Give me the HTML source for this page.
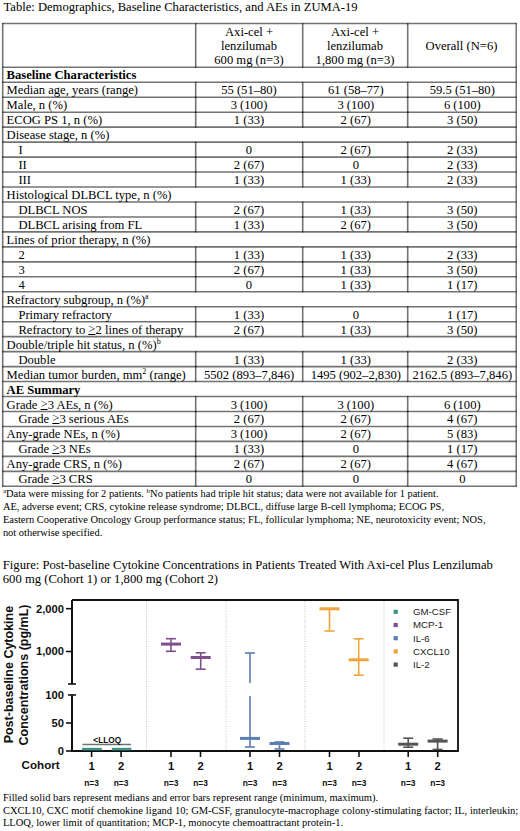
<!DOCTYPE html>
<html><head><meta charset="utf-8"><title>ZUMA-19</title>
<style>
html,body{margin:0;padding:0;background:#fff;}
body{width:520px;height:831px;position:relative;overflow:hidden;font-family:"Liberation Serif",serif;color:#000;}
.tl{position:absolute;left:0;top:0;}
.t{position:absolute;font-size:12.6px;line-height:15px;height:15px;white-space:nowrap;}
.b{font-weight:bold;}
.ge{position:relative;top:-1px;text-decoration:underline;text-decoration-thickness:1px;text-underline-offset:0.8px;}
.h{position:absolute;font-size:12.6px;line-height:14.33px;text-align:center;white-space:nowrap;}
sup{font-size:8px;line-height:0;vertical-align:0;position:relative;top:-5.2px;}
.p{position:absolute;font-size:10.45px;line-height:13px;white-space:nowrap;left:2.9px;}
.q{position:absolute;font-size:10.5px;line-height:12.7px;white-space:nowrap;left:2.9px;}
.f{position:absolute;font-size:12.65px;line-height:14.4px;white-space:nowrap;left:2.8px;}
.p sup{font-size:7px;top:-3.5px;}
.ch{position:absolute;left:0;top:0;}
.ch text{font-family:"Liberation Sans",sans-serif;font-weight:bold;fill:#111;}
.ch .yl{font-size:11.2px;}
.ch .xl{font-size:11.2px;}
.ch .nl{font-size:8.4px;}
.ch .ll{font-size:8.3px;}
.ch .yt{font-size:12.5px;}
.ch .lg{font-size:9.7px;font-weight:normal;fill:#222;}
</style></head><body>
<div class="t" style="left:3.5px;top:0px;font-size:12.6px">Table: Demographics, Baseline Characteristics, and AEs in ZUMA-19</div>
<svg class="tl" width="520" height="500" viewBox="0 0 520 500"><g stroke="#000" stroke-opacity="0.55" stroke-width="1.6" fill="none"><line x1="2.20" y1="23.45" x2="516.70" y2="23.45"/><line x1="2.20" y1="67.30" x2="516.70" y2="67.30"/><line x1="2.20" y1="82.26" x2="516.70" y2="82.26"/><line x1="2.20" y1="97.23" x2="516.70" y2="97.23"/><line x1="2.20" y1="112.19" x2="516.70" y2="112.19"/><line x1="2.20" y1="127.16" x2="516.70" y2="127.16"/><line x1="2.20" y1="142.12" x2="516.70" y2="142.12"/><line x1="2.20" y1="157.09" x2="516.70" y2="157.09"/><line x1="2.20" y1="172.05" x2="516.70" y2="172.05"/><line x1="2.20" y1="187.01" x2="516.70" y2="187.01"/><line x1="2.20" y1="201.98" x2="516.70" y2="201.98"/><line x1="2.20" y1="216.94" x2="516.70" y2="216.94"/><line x1="2.20" y1="231.91" x2="516.70" y2="231.91"/><line x1="2.20" y1="246.87" x2="516.70" y2="246.87"/><line x1="2.20" y1="261.84" x2="516.70" y2="261.84"/><line x1="2.20" y1="276.80" x2="516.70" y2="276.80"/><line x1="2.20" y1="291.76" x2="516.70" y2="291.76"/><line x1="2.20" y1="306.73" x2="516.70" y2="306.73"/><line x1="2.20" y1="321.69" x2="516.70" y2="321.69"/><line x1="2.20" y1="336.66" x2="516.70" y2="336.66"/><line x1="2.20" y1="351.62" x2="516.70" y2="351.62"/><line x1="2.20" y1="366.59" x2="516.70" y2="366.59"/><line x1="2.20" y1="381.55" x2="516.70" y2="381.55"/><line x1="2.20" y1="396.51" x2="516.70" y2="396.51"/><line x1="2.20" y1="411.48" x2="516.70" y2="411.48"/><line x1="2.20" y1="426.44" x2="516.70" y2="426.44"/><line x1="2.20" y1="441.41" x2="516.70" y2="441.41"/><line x1="2.20" y1="456.37" x2="516.70" y2="456.37"/><line x1="2.20" y1="471.34" x2="516.70" y2="471.34"/><line x1="2.20" y1="486.30" x2="516.70" y2="486.30"/><line x1="2.70" y1="22.95" x2="2.70" y2="486.80"/><line x1="195.70" y1="22.95" x2="195.70" y2="67.80"/><line x1="302.70" y1="22.95" x2="302.70" y2="67.80"/><line x1="407.70" y1="22.95" x2="407.70" y2="67.80"/><line x1="195.70" y1="81.76" x2="195.70" y2="97.73"/><line x1="302.70" y1="81.76" x2="302.70" y2="97.73"/><line x1="407.70" y1="81.76" x2="407.70" y2="97.73"/><line x1="195.70" y1="96.73" x2="195.70" y2="112.69"/><line x1="302.70" y1="96.73" x2="302.70" y2="112.69"/><line x1="407.70" y1="96.73" x2="407.70" y2="112.69"/><line x1="195.70" y1="111.69" x2="195.70" y2="127.66"/><line x1="302.70" y1="111.69" x2="302.70" y2="127.66"/><line x1="407.70" y1="111.69" x2="407.70" y2="127.66"/><line x1="195.70" y1="141.62" x2="195.70" y2="157.59"/><line x1="302.70" y1="141.62" x2="302.70" y2="157.59"/><line x1="407.70" y1="141.62" x2="407.70" y2="157.59"/><line x1="195.70" y1="156.59" x2="195.70" y2="172.55"/><line x1="302.70" y1="156.59" x2="302.70" y2="172.55"/><line x1="407.70" y1="156.59" x2="407.70" y2="172.55"/><line x1="195.70" y1="171.55" x2="195.70" y2="187.51"/><line x1="302.70" y1="171.55" x2="302.70" y2="187.51"/><line x1="407.70" y1="171.55" x2="407.70" y2="187.51"/><line x1="195.70" y1="201.48" x2="195.70" y2="217.44"/><line x1="302.70" y1="201.48" x2="302.70" y2="217.44"/><line x1="407.70" y1="201.48" x2="407.70" y2="217.44"/><line x1="195.70" y1="216.44" x2="195.70" y2="232.41"/><line x1="302.70" y1="216.44" x2="302.70" y2="232.41"/><line x1="407.70" y1="216.44" x2="407.70" y2="232.41"/><line x1="195.70" y1="246.37" x2="195.70" y2="262.34"/><line x1="302.70" y1="246.37" x2="302.70" y2="262.34"/><line x1="407.70" y1="246.37" x2="407.70" y2="262.34"/><line x1="195.70" y1="261.34" x2="195.70" y2="277.30"/><line x1="302.70" y1="261.34" x2="302.70" y2="277.30"/><line x1="407.70" y1="261.34" x2="407.70" y2="277.30"/><line x1="195.70" y1="276.30" x2="195.70" y2="292.26"/><line x1="302.70" y1="276.30" x2="302.70" y2="292.26"/><line x1="407.70" y1="276.30" x2="407.70" y2="292.26"/><line x1="195.70" y1="306.23" x2="195.70" y2="322.19"/><line x1="302.70" y1="306.23" x2="302.70" y2="322.19"/><line x1="407.70" y1="306.23" x2="407.70" y2="322.19"/><line x1="195.70" y1="321.19" x2="195.70" y2="337.16"/><line x1="302.70" y1="321.19" x2="302.70" y2="337.16"/><line x1="407.70" y1="321.19" x2="407.70" y2="337.16"/><line x1="195.70" y1="351.12" x2="195.70" y2="367.09"/><line x1="302.70" y1="351.12" x2="302.70" y2="367.09"/><line x1="407.70" y1="351.12" x2="407.70" y2="367.09"/><line x1="195.70" y1="366.09" x2="195.70" y2="382.05"/><line x1="302.70" y1="366.09" x2="302.70" y2="382.05"/><line x1="407.70" y1="366.09" x2="407.70" y2="382.05"/><line x1="195.70" y1="396.01" x2="195.70" y2="411.98"/><line x1="302.70" y1="396.01" x2="302.70" y2="411.98"/><line x1="407.70" y1="396.01" x2="407.70" y2="411.98"/><line x1="195.70" y1="410.98" x2="195.70" y2="426.94"/><line x1="302.70" y1="410.98" x2="302.70" y2="426.94"/><line x1="407.70" y1="410.98" x2="407.70" y2="426.94"/><line x1="195.70" y1="425.94" x2="195.70" y2="441.91"/><line x1="302.70" y1="425.94" x2="302.70" y2="441.91"/><line x1="407.70" y1="425.94" x2="407.70" y2="441.91"/><line x1="195.70" y1="440.91" x2="195.70" y2="456.87"/><line x1="302.70" y1="440.91" x2="302.70" y2="456.87"/><line x1="407.70" y1="440.91" x2="407.70" y2="456.87"/><line x1="195.70" y1="455.87" x2="195.70" y2="471.84"/><line x1="302.70" y1="455.87" x2="302.70" y2="471.84"/><line x1="407.70" y1="455.87" x2="407.70" y2="471.84"/><line x1="195.70" y1="470.84" x2="195.70" y2="486.80"/><line x1="302.70" y1="470.84" x2="302.70" y2="486.80"/><line x1="407.70" y1="470.84" x2="407.70" y2="486.80"/><line x1="516.20" y1="22.95" x2="516.20" y2="486.80" stroke-width="1.5"/></g></svg>
<div class="h" style="left:196px;top:24.7px;width:106px">Axi-cel +<br>lenzilumab<br>600 mg (n=3)</div>
<div class="h" style="left:303px;top:24.7px;width:104px">Axi-cel +<br>lenzilumab<br>1,800 mg (n=3)</div>
<div class="h" style="left:408px;top:39.03px;width:107px">Overall (N=6)</div>
<div class="t b" style="left:6.6px;top:68.2px;width:190px;text-align:left">Baseline Characteristics</div>
<div class="t" style="left:6.6px;top:83.2px;width:190px;text-align:left">Median age, years (range)</div>
<div class="t" style="left:196px;top:83.2px;width:106px;text-align:center">55 (51&ndash;80)</div>
<div class="t" style="left:303.8px;top:83.2px;width:104px;text-align:center">61 (58&ndash;77)</div>
<div class="t" style="left:408.8px;top:83.2px;width:107px;text-align:center">59.5 (51&ndash;80)</div>
<div class="t" style="left:6.6px;top:98.2px;width:190px;text-align:left">Male, n (%)</div>
<div class="t" style="left:196px;top:98.2px;width:106px;text-align:center">3 (100)</div>
<div class="t" style="left:303.8px;top:98.2px;width:104px;text-align:center">3 (100)</div>
<div class="t" style="left:408.8px;top:98.2px;width:107px;text-align:center">6 (100)</div>
<div class="t" style="left:6.6px;top:113.2px;width:190px;text-align:left">ECOG PS 1, n (%)</div>
<div class="t" style="left:196px;top:113.2px;width:106px;text-align:center">1 (33)</div>
<div class="t" style="left:303.8px;top:113.2px;width:104px;text-align:center">2 (67)</div>
<div class="t" style="left:408.8px;top:113.2px;width:107px;text-align:center">3 (50)</div>
<div class="t" style="left:6.6px;top:128.2px;width:190px;text-align:left">Disease stage, n (%)</div>
<div class="t" style="left:18.4px;top:143.2px;width:190px;text-align:left">I</div>
<div class="t" style="left:196px;top:143.2px;width:106px;text-align:center">0</div>
<div class="t" style="left:303.8px;top:143.2px;width:104px;text-align:center">2 (67)</div>
<div class="t" style="left:408.8px;top:143.2px;width:107px;text-align:center">2 (33)</div>
<div class="t" style="left:18.4px;top:158.2px;width:190px;text-align:left">II</div>
<div class="t" style="left:196px;top:158.2px;width:106px;text-align:center">2 (67)</div>
<div class="t" style="left:303.8px;top:158.2px;width:104px;text-align:center">0</div>
<div class="t" style="left:408.8px;top:158.2px;width:107px;text-align:center">2 (33)</div>
<div class="t" style="left:18.4px;top:173.2px;width:190px;text-align:left">III</div>
<div class="t" style="left:196px;top:173.2px;width:106px;text-align:center">1 (33)</div>
<div class="t" style="left:303.8px;top:173.2px;width:104px;text-align:center">1 (33)</div>
<div class="t" style="left:408.8px;top:173.2px;width:107px;text-align:center">2 (33)</div>
<div class="t" style="left:6.6px;top:188.2px;width:190px;text-align:left">Histological DLBCL type, n (%)</div>
<div class="t" style="left:18.4px;top:203.2px;width:190px;text-align:left">DLBCL NOS</div>
<div class="t" style="left:196px;top:203.2px;width:106px;text-align:center">2 (67)</div>
<div class="t" style="left:303.8px;top:203.2px;width:104px;text-align:center">1 (33)</div>
<div class="t" style="left:408.8px;top:203.2px;width:107px;text-align:center">3 (50)</div>
<div class="t" style="left:18.4px;top:218.2px;width:190px;text-align:left">DLBCL arising from FL</div>
<div class="t" style="left:196px;top:218.2px;width:106px;text-align:center">1 (33)</div>
<div class="t" style="left:303.8px;top:218.2px;width:104px;text-align:center">2 (67)</div>
<div class="t" style="left:408.8px;top:218.2px;width:107px;text-align:center">3 (50)</div>
<div class="t" style="left:6.6px;top:233.2px;width:190px;text-align:left">Lines of prior therapy, n (%)</div>
<div class="t" style="left:18.4px;top:248.2px;width:190px;text-align:left">2</div>
<div class="t" style="left:196px;top:248.2px;width:106px;text-align:center">1 (33)</div>
<div class="t" style="left:303.8px;top:248.2px;width:104px;text-align:center">1 (33)</div>
<div class="t" style="left:408.8px;top:248.2px;width:107px;text-align:center">2 (33)</div>
<div class="t" style="left:18.4px;top:263.2px;width:190px;text-align:left">3</div>
<div class="t" style="left:196px;top:263.2px;width:106px;text-align:center">2 (67)</div>
<div class="t" style="left:303.8px;top:263.2px;width:104px;text-align:center">1 (33)</div>
<div class="t" style="left:408.8px;top:263.2px;width:107px;text-align:center">3 (50)</div>
<div class="t" style="left:18.4px;top:278.2px;width:190px;text-align:left">4</div>
<div class="t" style="left:196px;top:278.2px;width:106px;text-align:center">0</div>
<div class="t" style="left:303.8px;top:278.2px;width:104px;text-align:center">1 (33)</div>
<div class="t" style="left:408.8px;top:278.2px;width:107px;text-align:center">1 (17)</div>
<div class="t" style="left:6.6px;top:293.2px;width:190px;text-align:left">Refractory subgroup, n (%)<sup>a</sup></div>
<div class="t" style="left:18.4px;top:308.2px;width:190px;text-align:left">Primary refractory</div>
<div class="t" style="left:196px;top:308.2px;width:106px;text-align:center">1 (33)</div>
<div class="t" style="left:303.8px;top:308.2px;width:104px;text-align:center">0</div>
<div class="t" style="left:408.8px;top:308.2px;width:107px;text-align:center">1 (17)</div>
<div class="t" style="left:18.4px;top:323.2px;width:190px;text-align:left">Refractory to <span class="ge">&gt;</span>2 lines of therapy</div>
<div class="t" style="left:196px;top:323.2px;width:106px;text-align:center">2 (67)</div>
<div class="t" style="left:303.8px;top:323.2px;width:104px;text-align:center">1 (33)</div>
<div class="t" style="left:408.8px;top:323.2px;width:107px;text-align:center">3 (50)</div>
<div class="t" style="left:6.6px;top:338.2px;width:190px;text-align:left">Double/triple hit status, n (%)<sup>b</sup></div>
<div class="t" style="left:18.4px;top:353.2px;width:190px;text-align:left">Double</div>
<div class="t" style="left:196px;top:353.2px;width:106px;text-align:center">1 (33)</div>
<div class="t" style="left:303.8px;top:353.2px;width:104px;text-align:center">1 (33)</div>
<div class="t" style="left:408.8px;top:353.2px;width:107px;text-align:center">2 (33)</div>
<div class="t" style="left:6.6px;top:368.2px;width:190px;text-align:left">Median tumor burden, mm<sup>2</sup> (range)</div>
<div class="t" style="left:196px;top:368.2px;width:106px;text-align:center">5502 (893&ndash;7,846)</div>
<div class="t" style="left:303.8px;top:368.2px;width:104px;text-align:center">1495 (902&ndash;2,830)</div>
<div class="t" style="left:408.8px;top:368.2px;width:107px;text-align:center">2162.5 (893&ndash;7,846)</div>
<div class="t b" style="left:6.6px;top:383.2px;width:190px;text-align:left">AE Summary</div>
<div class="t" style="left:6.6px;top:398.2px;width:190px;text-align:left">Grade <span class="ge">&gt;</span>3 AEs, n (%)</div>
<div class="t" style="left:196px;top:398.2px;width:106px;text-align:center">3 (100)</div>
<div class="t" style="left:303.8px;top:398.2px;width:104px;text-align:center">3 (100)</div>
<div class="t" style="left:408.8px;top:398.2px;width:107px;text-align:center">6 (100)</div>
<div class="t" style="left:18.4px;top:412.2px;width:190px;text-align:left">Grade <span class="ge">&gt;</span>3 serious AEs</div>
<div class="t" style="left:196px;top:412.2px;width:106px;text-align:center">2 (67)</div>
<div class="t" style="left:303.8px;top:412.2px;width:104px;text-align:center">2 (67)</div>
<div class="t" style="left:408.8px;top:412.2px;width:107px;text-align:center">4 (67)</div>
<div class="t" style="left:6.6px;top:427.2px;width:190px;text-align:left">Any-grade NEs, n (%)</div>
<div class="t" style="left:196px;top:427.2px;width:106px;text-align:center">3 (100)</div>
<div class="t" style="left:303.8px;top:427.2px;width:104px;text-align:center">2 (67)</div>
<div class="t" style="left:408.8px;top:427.2px;width:107px;text-align:center">5 (83)</div>
<div class="t" style="left:18.4px;top:442.2px;width:190px;text-align:left">Grade <span class="ge">&gt;</span>3 NEs</div>
<div class="t" style="left:196px;top:442.2px;width:106px;text-align:center">1 (33)</div>
<div class="t" style="left:303.8px;top:442.2px;width:104px;text-align:center">0</div>
<div class="t" style="left:408.8px;top:442.2px;width:107px;text-align:center">1 (17)</div>
<div class="t" style="left:6.6px;top:457.2px;width:190px;text-align:left">Any-grade CRS, n (%)</div>
<div class="t" style="left:196px;top:457.2px;width:106px;text-align:center">2 (67)</div>
<div class="t" style="left:303.8px;top:457.2px;width:104px;text-align:center">2 (67)</div>
<div class="t" style="left:408.8px;top:457.2px;width:107px;text-align:center">4 (67)</div>
<div class="t" style="left:18.4px;top:472.2px;width:190px;text-align:left">Grade <span class="ge">&gt;</span>3 CRS</div>
<div class="t" style="left:196px;top:472.2px;width:106px;text-align:center">0</div>
<div class="t" style="left:303.8px;top:472.2px;width:104px;text-align:center">0</div>
<div class="t" style="left:408.8px;top:472.2px;width:107px;text-align:center">0</div>
<div class="p" style="top:486.5px"><sup>a</sup>Data were missing for 2 patients. <sup>b</sup>No patients had triple hit status; data were not available for 1 patient.</div>
<div class="p" style="top:499.5px">AE, adverse event; CRS, cytokine release syndrome; DLBCL, diffuse large B-cell lymphoma; ECOG PS,</div>
<div class="p" style="top:512.5px">Eastern Cooperative Oncology Group performance status; FL, follicular lymphoma; NE, neurotoxicity event; NOS,</div>
<div class="p" style="top:525.5px">not otherwise specified.</div>
<div class="f" style="top:558.1px;">Figure: Post-baseline Cytokine Concentrations in Patients Treated With Axi-cel Plus Lenzilumab</div>
<div class="f" style="top:571.8px;">600 mg (Cohort 1) or 1,800 mg (Cohort 2)</div>
<svg class="ch" width="520" height="831" viewBox="0 0 520 831"><line x1="146.5" y1="601" x2="146.5" y2="750" stroke="#c4c4c4" stroke-width="1" stroke-dasharray="1,1.5"/>
<line x1="226" y1="601" x2="226" y2="750" stroke="#c4c4c4" stroke-width="1" stroke-dasharray="1,1.5"/>
<line x1="305" y1="601" x2="305" y2="750" stroke="#c4c4c4" stroke-width="1" stroke-dasharray="1,1.5"/>
<line x1="384" y1="601" x2="384" y2="750" stroke="#c4c4c4" stroke-width="1" stroke-dasharray="1,1.5"/>
<path d="M72,600 H458 V751 H72" fill="none" stroke="#111" stroke-width="1.8"/>
<line x1="72" y1="600" x2="72" y2="684" stroke="#111" stroke-width="2"/>
<line x1="72" y1="695" x2="72" y2="751.9" stroke="#111" stroke-width="2"/>
<line x1="68" y1="684" x2="76" y2="684" stroke="#111" stroke-width="1.6"/>
<line x1="68" y1="695" x2="76" y2="695" stroke="#111" stroke-width="1.6"/>
<line x1="66" y1="608.7" x2="72" y2="608.7" stroke="#111" stroke-width="1.6"/>
<line x1="66" y1="651.5" x2="72" y2="651.5" stroke="#111" stroke-width="1.6"/>
<line x1="66" y1="723" x2="72" y2="723" stroke="#111" stroke-width="1.6"/>
<line x1="66" y1="751" x2="72" y2="751" stroke="#111" stroke-width="1.6"/>
<text x="64" y="612.6" text-anchor="end" class="yl">2,000</text>
<text x="64" y="655.4" text-anchor="end" class="yl">1,000</text>
<text x="64" y="698.9" text-anchor="end" class="yl">100</text>
<text x="64" y="726.9" text-anchor="end" class="yl">50</text>
<text x="64" y="754.9" text-anchor="end" class="yl">0</text>
<line x1="91.6" y1="751" x2="91.6" y2="757" stroke="#111" stroke-width="1.6"/>
<text x="91.6" y="769.5" text-anchor="middle" class="xl">1</text>
<text x="91.6" y="786.3" text-anchor="middle" class="nl">n=3</text>
<line x1="121.1" y1="751" x2="121.1" y2="757" stroke="#111" stroke-width="1.6"/>
<text x="121.1" y="769.5" text-anchor="middle" class="xl">2</text>
<text x="121.1" y="786.3" text-anchor="middle" class="nl">n=3</text>
<line x1="171" y1="751" x2="171" y2="757" stroke="#111" stroke-width="1.6"/>
<text x="171" y="769.5" text-anchor="middle" class="xl">1</text>
<text x="171" y="786.3" text-anchor="middle" class="nl">n=3</text>
<line x1="200.5" y1="751" x2="200.5" y2="757" stroke="#111" stroke-width="1.6"/>
<text x="200.5" y="769.5" text-anchor="middle" class="xl">2</text>
<text x="200.5" y="786.3" text-anchor="middle" class="nl">n=3</text>
<line x1="250" y1="751" x2="250" y2="757" stroke="#111" stroke-width="1.6"/>
<text x="250" y="769.5" text-anchor="middle" class="xl">1</text>
<text x="250" y="786.3" text-anchor="middle" class="nl">n=3</text>
<line x1="279.5" y1="751" x2="279.5" y2="757" stroke="#111" stroke-width="1.6"/>
<text x="279.5" y="769.5" text-anchor="middle" class="xl">2</text>
<text x="279.5" y="786.3" text-anchor="middle" class="nl">n=3</text>
<line x1="329.5" y1="751" x2="329.5" y2="757" stroke="#111" stroke-width="1.6"/>
<text x="329.5" y="769.5" text-anchor="middle" class="xl">1</text>
<text x="329.5" y="786.3" text-anchor="middle" class="nl">n=3</text>
<line x1="359.0" y1="751" x2="359.0" y2="757" stroke="#111" stroke-width="1.6"/>
<text x="359.0" y="769.5" text-anchor="middle" class="xl">2</text>
<text x="359.0" y="786.3" text-anchor="middle" class="nl">n=3</text>
<line x1="408.2" y1="751" x2="408.2" y2="757" stroke="#111" stroke-width="1.6"/>
<text x="408.2" y="769.5" text-anchor="middle" class="xl">1</text>
<text x="408.2" y="786.3" text-anchor="middle" class="nl">n=3</text>
<line x1="437.7" y1="751" x2="437.7" y2="757" stroke="#111" stroke-width="1.6"/>
<text x="437.7" y="769.5" text-anchor="middle" class="xl">2</text>
<text x="437.7" y="786.3" text-anchor="middle" class="nl">n=3</text>
<text x="21.6" y="769.4" class="xl" style="font-size:11.6px">Cohort</text>
<text transform="translate(12.9,674.6) rotate(-90)" text-anchor="middle" class="yt">Post-baseline Cytokine</text>
<text transform="translate(28,675) rotate(-90)" text-anchor="middle" class="yt">Concentrations (pg/mL)</text>
<line x1="82.5" y1="744.5" x2="131" y2="744.5" stroke="#707070" stroke-width="1.3"/>
<text x="107.3" y="742.5" text-anchor="middle" class="ll">&lt;LLOQ</text>
<rect x="82" y="747.8" width="19.8" height="2.6" fill="#3f9488"/>
<rect x="111.8" y="747.8" width="19.6" height="2.6" fill="#3f9488"/>
<line x1="171" y1="638.7" x2="171" y2="651.3" stroke="#7f4f8d" stroke-width="1.6"/>
<line x1="166" y1="638.7" x2="176" y2="638.7" stroke="#7f4f8d" stroke-width="1.6"/>
<line x1="166" y1="651.3" x2="176" y2="651.3" stroke="#7f4f8d" stroke-width="1.6"/>
<line x1="161" y1="644.1" x2="181" y2="644.1" stroke="#7f4f8d" stroke-width="3"/>
<line x1="200.7" y1="652.8" x2="200.7" y2="669.2" stroke="#7f4f8d" stroke-width="1.6"/>
<line x1="195.7" y1="652.8" x2="205.7" y2="652.8" stroke="#7f4f8d" stroke-width="1.6"/>
<line x1="195.7" y1="669.2" x2="205.7" y2="669.2" stroke="#7f4f8d" stroke-width="1.6"/>
<line x1="190.7" y1="657.5" x2="210.7" y2="657.5" stroke="#7f4f8d" stroke-width="3"/>
<line x1="250" y1="653" x2="250" y2="683" stroke="#5b7db0" stroke-width="1.6"/>
<line x1="250" y1="696" x2="250" y2="747" stroke="#5b7db0" stroke-width="1.6"/>
<line x1="245" y1="653" x2="255" y2="653" stroke="#5b7db0" stroke-width="1.6"/>
<line x1="245" y1="747" x2="255" y2="747" stroke="#5b7db0" stroke-width="1.6"/>
<line x1="240" y1="738.4" x2="260" y2="738.4" stroke="#5b7db0" stroke-width="3"/>
<line x1="279.5" y1="742" x2="279.5" y2="749" stroke="#5b7db0" stroke-width="1.6"/>
<line x1="274.5" y1="742" x2="284.5" y2="742" stroke="#5b7db0" stroke-width="1.6"/>
<line x1="274.5" y1="749" x2="284.5" y2="749" stroke="#5b7db0" stroke-width="1.6"/>
<line x1="269.5" y1="743.5" x2="289.5" y2="743.5" stroke="#5b7db0" stroke-width="3"/>
<line x1="329.5" y1="608.8" x2="329.5" y2="631" stroke="#f0a43a" stroke-width="1.6"/>
<line x1="324.5" y1="608.8" x2="334.5" y2="608.8" stroke="#f0a43a" stroke-width="1.6"/>
<line x1="324.5" y1="631" x2="334.5" y2="631" stroke="#f0a43a" stroke-width="1.6"/>
<line x1="319.5" y1="608.8" x2="339.5" y2="608.8" stroke="#f0a43a" stroke-width="3"/>
<line x1="358.7" y1="638.8" x2="358.7" y2="675.2" stroke="#f0a43a" stroke-width="1.6"/>
<line x1="353.7" y1="638.8" x2="363.7" y2="638.8" stroke="#f0a43a" stroke-width="1.6"/>
<line x1="353.7" y1="675.2" x2="363.7" y2="675.2" stroke="#f0a43a" stroke-width="1.6"/>
<line x1="348.7" y1="659.8" x2="368.7" y2="659.8" stroke="#f0a43a" stroke-width="3"/>
<line x1="408.2" y1="738.2" x2="408.2" y2="747.2" stroke="#555555" stroke-width="1.6"/>
<line x1="403.2" y1="738.2" x2="413.2" y2="738.2" stroke="#555555" stroke-width="1.6"/>
<line x1="403.2" y1="747.2" x2="413.2" y2="747.2" stroke="#555555" stroke-width="1.6"/>
<line x1="398.2" y1="744.2" x2="418.2" y2="744.2" stroke="#555555" stroke-width="3"/>
<line x1="437.6" y1="739" x2="437.6" y2="749.4" stroke="#555555" stroke-width="1.6"/>
<line x1="432.6" y1="739" x2="442.6" y2="739" stroke="#555555" stroke-width="1.6"/>
<line x1="432.6" y1="749.4" x2="442.6" y2="749.4" stroke="#555555" stroke-width="1.6"/>
<line x1="427.6" y1="741.1" x2="447.6" y2="741.1" stroke="#555555" stroke-width="3"/>
<rect x="393.6" y="609.7" width="4.2" height="4.2" fill="#3f9488"/>
<text x="413" y="615.1" class="lg">GM-CSF</text>
<rect x="393.6" y="622.9" width="4.2" height="4.2" fill="#7f4f8d"/>
<text x="413" y="628.3" class="lg">MCP-1</text>
<rect x="393.6" y="636.1" width="4.2" height="4.2" fill="#5b7db0"/>
<text x="413" y="641.5" class="lg">IL-6</text>
<rect x="393.6" y="649.3" width="4.2" height="4.2" fill="#f0a43a"/>
<text x="413" y="654.7" class="lg">CXCL10</text>
<rect x="393.6" y="662.5" width="4.2" height="4.2" fill="#555555"/>
<text x="413" y="667.9" class="lg">IL-2</text></svg>
<div class="q" style="top:791.9px">Filled solid bars represent medians and error bars represent range (minimum, maximum).</div>
<div class="q" style="top:804.6px;word-spacing:0.22px">CXCL10, CXC motif chemokine ligand 10; GM-CSF, granulocyte-macrophage colony-stimulating factor; IL, interleukin;</div>
<div class="q" style="top:817.3px">LLOQ, lower limit of quantitation; MCP-1, monocyte chemoattractant protein-1.</div>
</body></html>
